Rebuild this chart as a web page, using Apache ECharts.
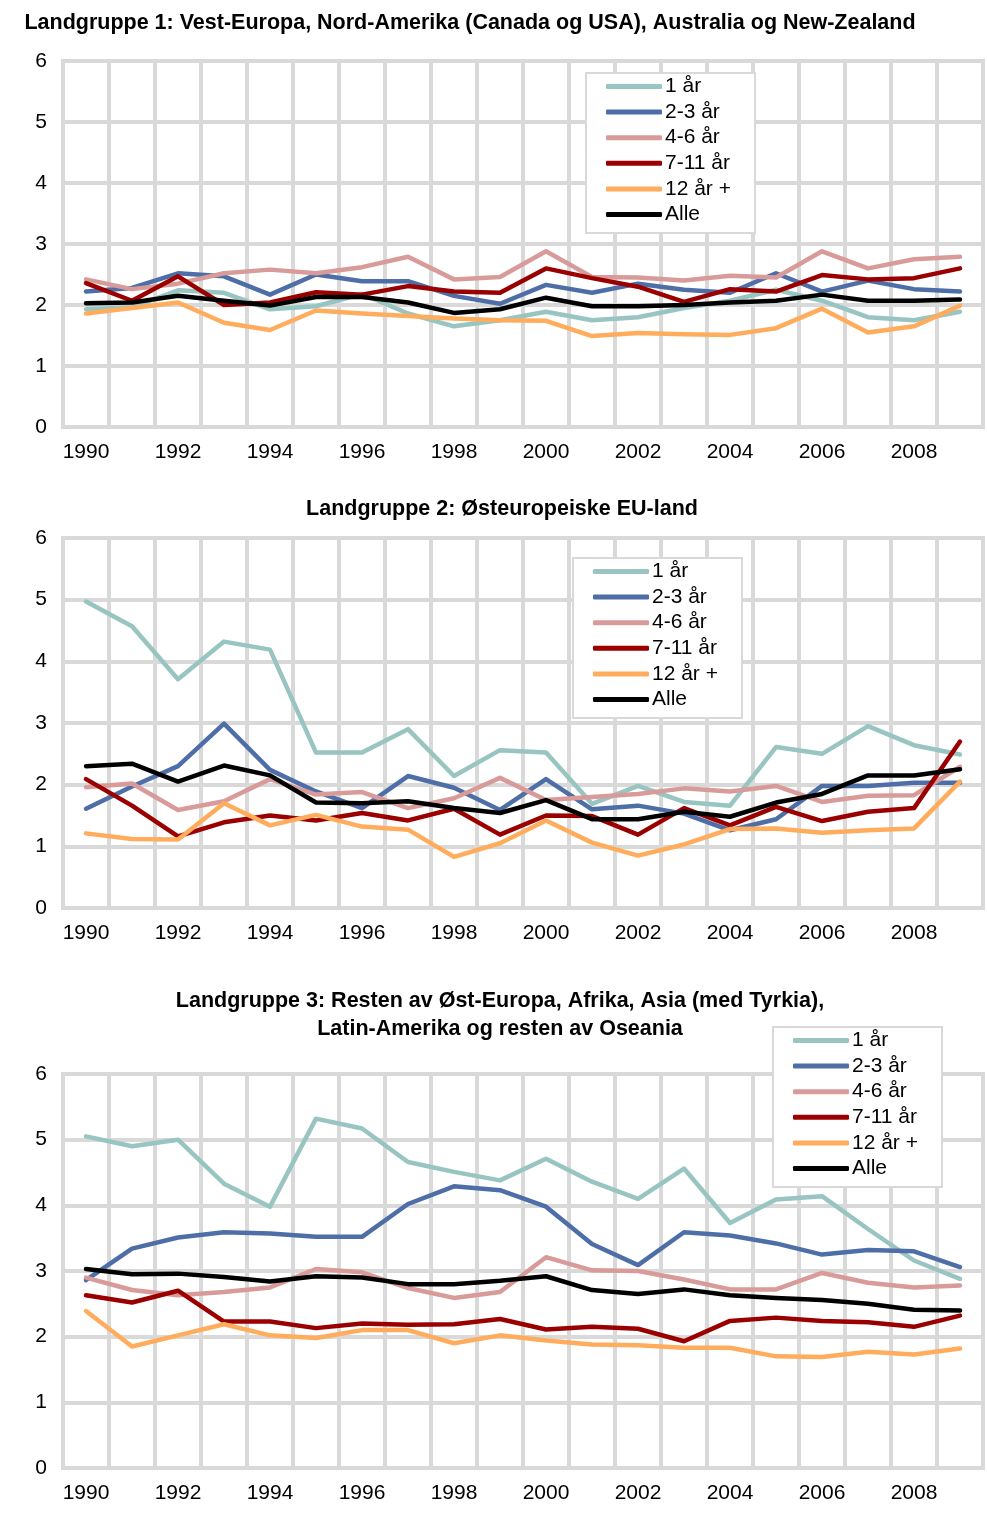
<!DOCTYPE html>
<html>
<head>
<meta charset="utf-8">
<script src="https://cdn.jsdelivr.net/npm/echarts@6/dist/echarts.min.js"></script>
<style>
  body { margin: 0; background: #fff; }
  #main { width: 987px; height: 1515px; }
</style>
</head>
<body>
<div id="main"></div>
<script>
  // år 1990 - 2009
  var years = ['1990', '1991', '1992', '1993', '1994', '1995', '1996', '1997', '1998', '1999',
    '2000', '2001', '2002', '2003', '2004', '2005', '2006', '2007', '2008', '2009'];
  var seriesNames = ['1 år', '2-3 år', '4-6 år', '7-11 år', '12 år +', 'Alle'];
  var yTicks = [0, 1, 2, 3, 4, 5, 6];

  // Landgruppe 1
  var g1_1ar = [1.93, 1.96, 2.24, 2.2, 1.93, 1.98, 2.18, 1.86, 1.65, 1.75, 1.89, 1.75, 1.8, 1.95, 2.07, 2.25, 2.07, 1.8, 1.75, 1.89];
  var g1_2_3ar = [2.22, 2.28, 2.52, 2.47, 2.17, 2.5, 2.39, 2.39, 2.15, 2.02, 2.33, 2.2, 2.35, 2.25, 2.2, 2.52, 2.22, 2.4, 2.26, 2.22];
  var g1_4_6ar = [2.42, 2.26, 2.35, 2.52, 2.58, 2.52, 2.62, 2.79, 2.42, 2.46, 2.88, 2.46, 2.45, 2.4, 2.48, 2.45, 2.88, 2.6, 2.75, 2.79];
  var g1_7_11ar = [2.36, 2.07, 2.47, 2.0, 2.04, 2.21, 2.17, 2.31, 2.22, 2.2, 2.6, 2.44, 2.3, 2.05, 2.26, 2.22, 2.49, 2.42, 2.44, 2.6];
  var g1_12ar = [1.86, 1.95, 2.04, 1.71, 1.59, 1.91, 1.86, 1.82, 1.78, 1.75, 1.74, 1.49, 1.54, 1.52, 1.51, 1.62, 1.94, 1.55, 1.65, 1.99];
  var g1_alle = [2.03, 2.04, 2.15, 2.07, 1.99, 2.13, 2.13, 2.04, 1.87, 1.93, 2.12, 1.98, 1.98, 2.0, 2.04, 2.07, 2.17, 2.07, 2.07, 2.09];

  // Landgruppe 2
  var g2_1ar = [4.97, 4.57, 3.71, 4.32, 4.19, 2.52, 2.52, 2.9, 2.14, 2.56, 2.52, 1.69, 1.98, 1.72, 1.66, 2.61, 2.5, 2.95, 2.64, 2.49];
  var g2_2_3ar = [1.61, 1.97, 2.3, 2.99, 2.24, 1.89, 1.62, 2.14, 1.95, 1.59, 2.09, 1.6, 1.66, 1.53, 1.26, 1.44, 1.98, 1.98, 2.03, 2.03];
  var g2_4_6ar = [1.96, 2.02, 1.59, 1.73, 2.09, 1.84, 1.88, 1.62, 1.78, 2.11, 1.75, 1.8, 1.85, 1.94, 1.89, 1.98, 1.72, 1.82, 1.83, 2.29];
  var g2_7_11ar = [2.09, 1.66, 1.16, 1.39, 1.5, 1.42, 1.54, 1.42, 1.61, 1.19, 1.5, 1.49, 1.19, 1.62, 1.34, 1.64, 1.41, 1.56, 1.62, 2.7];
  var g2_12ar = [1.21, 1.12, 1.11, 1.7, 1.34, 1.51, 1.32, 1.27, 0.83, 1.05, 1.42, 1.06, 0.85, 1.03, 1.28, 1.29, 1.22, 1.26, 1.29, 2.05];
  var g2_alle = [2.3, 2.34, 2.05, 2.31, 2.15, 1.71, 1.7, 1.73, 1.62, 1.54, 1.75, 1.44, 1.44, 1.56, 1.48, 1.71, 1.85, 2.15, 2.15, 2.25];

  // Landgruppe 3
  var g3_1ar = [5.05, 4.9, 5.0, 4.33, 3.98, 5.32, 5.17, 4.66, 4.51, 4.38, 4.71, 4.36, 4.1, 4.56, 3.73, 4.09, 4.14, 3.64, 3.16, 2.88];
  var g3_2_3ar = [2.86, 3.34, 3.51, 3.59, 3.57, 3.52, 3.52, 4.02, 4.29, 4.23, 3.98, 3.41, 3.09, 3.59, 3.54, 3.42, 3.25, 3.32, 3.3, 3.06];
  var g3_4_6ar = [2.9, 2.71, 2.63, 2.68, 2.75, 3.03, 2.98, 2.74, 2.59, 2.68, 3.21, 3.01, 3.0, 2.87, 2.72, 2.72, 2.97, 2.82, 2.75, 2.78];
  var g3_7_11ar = [2.63, 2.52, 2.7, 2.23, 2.23, 2.13, 2.2, 2.18, 2.19, 2.27, 2.11, 2.15, 2.12, 1.93, 2.24, 2.29, 2.24, 2.22, 2.15, 2.32];
  var g3_12ar = [2.39, 1.85, 2.02, 2.19, 2.02, 1.98, 2.1, 2.1, 1.9, 2.02, 1.94, 1.88, 1.87, 1.83, 1.83, 1.7, 1.69, 1.77, 1.73, 1.82];
  var g3_alle = [3.03, 2.95, 2.96, 2.91, 2.84, 2.92, 2.9, 2.8, 2.8, 2.85, 2.92, 2.71, 2.65, 2.72, 2.63, 2.59, 2.56, 2.5, 2.41, 2.4];

  var colors = ['#98c4c1', '#4e6ea8', '#d99a9a', '#9b0000', '#ffac5c', '#000000'];
  var groups = [
    [g1_1ar, g1_2_3ar, g1_4_6ar, g1_7_11ar, g1_12ar, g1_alle],
    [g2_1ar, g2_2_3ar, g2_4_6ar, g2_7_11ar, g2_12ar, g2_alle],
    [g3_1ar, g3_2_3ar, g3_4_6ar, g3_7_11ar, g3_12ar, g3_alle]
  ];

  var font = 'Arial, "Liberation Sans", sans-serif';
  var gridColor = '#d9d9d9';

  // plassering av de tre diagrammene
  var grids = [
    {left: 63, top: 61, width: 920, height: 366},
    {left: 63, top: 538, width: 920, height: 370},
    {left: 63, top: 1074, width: 920, height: 394}
  ];
  var legendPos = [
    {left: 586, top: 73},
    {left: 573, top: 558},
    {left: 773, top: 1027}
  ];

  var option = {
    animation: false,
    backgroundColor: '#fff',
    color: colors,
    title: [
      {
        text: 'Landgruppe 1: Vest-Europa, Nord-Amerika (Canada og USA), Australia og New-Zealand',
        left: 470, top: 9, textAlign: 'center', padding: 0
      },
      {
        text: 'Landgruppe 2: Østeuropeiske EU-land',
        left: 502, top: 495, textAlign: 'center', padding: 0
      },
      {
        text: 'Landgruppe 3: Resten av Øst-Europa, Afrika, Asia (med Tyrkia),\nLatin-Amerika og resten av Oseania',
        left: 500, top: 987, textAlign: 'center', padding: 0
      }
    ].map(function (t) {
      t.textStyle = {fontFamily: font, fontSize: 21.5, fontWeight: 'bold', color: '#000', lineHeight: 28};
      return t;
    }),
    grid: [],
    xAxis: [],
    yAxis: [],
    legend: [],
    series: []
  };

  for (var g = 0; g < 3; g++) {
    option.grid.push({
      left: grids[g].left, top: grids[g].top, width: grids[g].width, height: grids[g].height,
      show: true, borderColor: gridColor, borderWidth: 4, backgroundColor: '#fff'
    });
    option.xAxis.push({
      type: 'category',
      gridIndex: g,
      data: years,
      boundaryGap: true,
      axisLine: {show: false},
      axisTick: {show: false},
      axisLabel: {interval: 1, margin: 15, fontFamily: font, fontSize: 21, color: '#000'},
      splitLine: {show: true, interval: 0, lineStyle: {color: gridColor, width: 4}}
    });
    option.yAxis.push({
      type: 'value',
      gridIndex: g,
      min: yTicks[0],
      max: yTicks[yTicks.length - 1],
      interval: 1,
      axisLine: {show: false},
      axisTick: {show: false},
      axisLabel: {margin: 16, fontFamily: font, fontSize: 21, color: '#000'},
      splitLine: {show: true, lineStyle: {color: gridColor, width: 4}}
    });
    option.legend.push({
      orient: 'vertical',
      left: legendPos[g].left,
      top: legendPos[g].top,
      data: seriesNames,
      icon: 'roundRect',
      itemWidth: 56,
      itemHeight: 5,
      itemGap: 4.6,
      padding: [3, 24, 8, 20],
      backgroundColor: '#fff',
      borderColor: gridColor,
      borderWidth: 2,
      selectedMode: false,
      textStyle: {fontFamily: font, fontSize: 21, color: '#000', lineHeight: 21, padding: [0, 0, 0, -2]}
    });
    for (var s = 0; s < seriesNames.length; s++) {
      option.series.push({
        name: seriesNames[s],
        type: 'line',
        xAxisIndex: g,
        yAxisIndex: g,
        data: groups[g][s],
        symbol: 'none',
        lineStyle: {width: 4.5, color: colors[s], cap: 'round', join: 'round'},
        itemStyle: {color: colors[s]},
        z: 2 + s
      });
    }
  }

  var myChart = echarts.init(document.getElementById('main'));
  myChart.setOption(option);
</script>
</body>
</html>
